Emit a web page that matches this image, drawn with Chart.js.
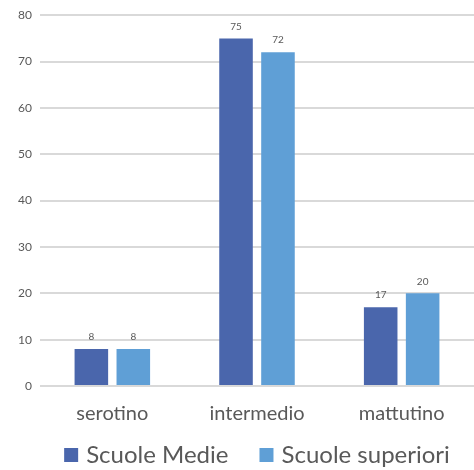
<!DOCTYPE html>
<html>
<head>
<meta charset="utf-8">
<script src="https://cdn.jsdelivr.net/npm/chart.js@4"></script>
<style>
  html, body { margin: 0; padding: 0; background: #fff; }
  #wrap { width: 474px; height: 470px; }
</style>
</head>
<body>
<div id="wrap"><canvas id="chart"></canvas></div>
<script>
  var categories = ['serotino', 'intermedio', 'mattutino'];
  var medie = [8, 75, 17];
  var superiori = [8, 72, 20];
  var yTicks = [0, 10, 20, 30, 40, 50, 60, 70, 80];

  var FONT = "'Lato', 'Open Sans', sans-serif";
  var GREY = '#595959';

  // small value labels above each bar
  var valueLabels = {
    id: 'valueLabels',
    afterDatasetsDraw: function (chart) {
      var ctx = chart.ctx;
      ctx.save();
      ctx.font = '10px ' + FONT;
      ctx.fillStyle = GREY;
      ctx.textAlign = 'center';
      ctx.textBaseline = 'bottom';
      chart.data.datasets.forEach(function (ds, i) {
        chart.getDatasetMeta(i).data.forEach(function (bar, j) {
          ctx.fillText(String(ds.data[j]), bar.x, bar.y - 7);
        });
      });
      ctx.restore();
    }
  };

  // bottom legend with wider gap between items than the built-in one allows
  var bottomLegend = {
    id: 'bottomLegend',
    afterDraw: function (chart) {
      var ctx = chart.ctx;
      var box = 14, gapText = 8, gapItem = 31, y = 455;
      ctx.save();
      ctx.font = '24px ' + FONT;
      ctx.textBaseline = 'middle';
      var items = chart.data.datasets.map(function (ds) {
        return { text: ds.label, color: ds.backgroundColor, w: ctx.measureText(ds.label).width };
      });
      var total = 0;
      items.forEach(function (it, i) {
        total += box + gapText + it.w + (i ? gapItem : 0);
      });
      var area = chart.chartArea;
      var x = (area.left + area.right - total) / 2;
      items.forEach(function (it) {
        ctx.fillStyle = it.color;
        ctx.fillRect(x, y - box / 2, box, box);
        ctx.fillStyle = GREY;
        ctx.fillText(it.text, x + box + gapText, y);
        x += box + gapText + it.w + gapItem;
      });
      ctx.restore();
    }
  };

  new Chart(document.getElementById('chart'), {
    type: 'bar',
    data: {
      labels: categories,
      datasets: [
        {
          label: 'Scuole Medie',
          data: medie,
          backgroundColor: '#4a66ac',
          barPercentage: 0.8,
          categoryPercentage: 0.58
        },
        {
          label: 'Scuole superiori',
          data: superiori,
          backgroundColor: '#5f9fd6',
          barPercentage: 0.8,
          categoryPercentage: 0.58
        }
      ]
    },
    options: {
      responsive: true,
      maintainAspectRatio: false,
      animation: false,
      layout: { padding: { top: 2, right: 0, left: 0, bottom: 44 } },
      plugins: {
        legend: { display: false },
        tooltip: { enabled: false }
      },
      scales: {
        y: {
          min: 0, max: 80,
          afterBuildTicks: function (axis) {
            axis.ticks = yTicks.map(function (v) { return { value: v }; });
          },
          afterFit: function (axis) { axis.width = 40; },
          grid: { color: '#d9d9d9', lineWidth: 2, drawTicks: false },
          border: { display: false },
          ticks: { font: { family: FONT, size: 12 }, color: GREY, padding: 8 }
        },
        x: {
          afterFit: function (axis) { axis.height = 40; },
          grid: { display: false, drawTicks: false },
          border: { display: false },
          ticks: { font: { family: FONT, size: 20 }, color: GREY, padding: 16 }
        }
      }
    },
    plugins: [valueLabels, bottomLegend]
  });
</script>
</body>
</html>
